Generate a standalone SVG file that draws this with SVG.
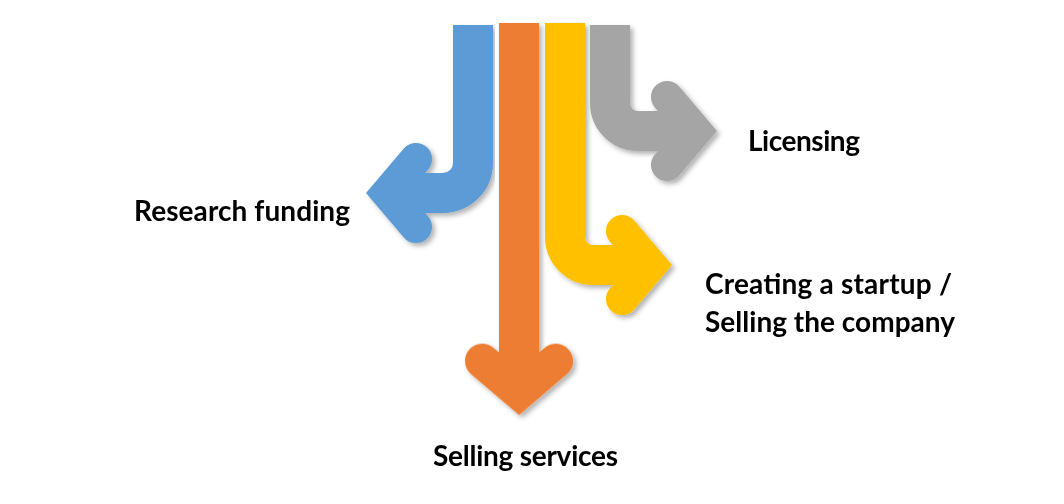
<svg xmlns="http://www.w3.org/2000/svg" width="1064" height="504" viewBox="0 0 1064 504">
  <style>
    .lbl { font-family: Lato, "Open Sans", "Liberation Sans", sans-serif; font-weight: 700; font-size: 28px; fill: #000; }
    .bar { fill: none; stroke-width: 40; stroke-linecap: butt; }
  </style>
  <defs>
    <filter id="sh" x="-20%" y="-20%" width="140%" height="140%">
      <feDropShadow dx="3" dy="3" stdDeviation="2.5" flood-color="#000" flood-opacity="0.3"/>
    </filter>
    <path id="head" d="M0,0 L-37.8,-44.4 A16,16 0 0 0 -62.2,-23.6 L-58.3,-19 L-58.3,19 L-62.2,23.6 A16,16 0 0 0 -37.8,44.4 Z"/>
  </defs>
  <rect width="1064" height="504" fill="#fff"/>
  <g id="connectors">
    <g id="arrow-blue" filter="url(#sh)" fill="#5B9BD5">
      <path class="bar" stroke="#5B9BD5" d="M473,25 V163 A30,30 0 0 1 443,193 H410"/>
      <use href="#head" transform="translate(366,193) scale(-1,1)"/>
    </g>
    <g id="arrow-orange" filter="url(#sh)" fill="#ED7D31">
      <path class="bar" stroke="#ED7D31" stroke-width="42" d="M519,23 V365"/>
      <use href="#head" transform="translate(519,415) rotate(90) scale(1.08)"/>
    </g>
    <g id="arrow-yellow" filter="url(#sh)" fill="#FFC000">
      <path class="bar" stroke="#FFC000" d="M565,23 V237 A28,28 0 0 0 593,265 H625"/>
      <use href="#head" transform="translate(672,265)"/>
    </g>
    <g id="arrow-grey" filter="url(#sh)" fill="#A5A5A5">
      <path class="bar" stroke="#A5A5A5" d="M610,25 V103 A28,28 0 0 0 638,131 H670"/>
      <use href="#head" transform="translate(717,131)"/>
    </g>
  </g>
  <g id="node-research">
    <text class="lbl" x="134" y="221" textLength="216">Research funding</text>
  </g>
  <g id="node-licensing">
    <text class="lbl" x="748" y="151" textLength="112">Licensing</text>
  </g>
  <g id="node-startup">
    <text class="lbl" x="705" y="294" textLength="247">Creating a startup /</text>
    <text class="lbl" x="705" y="332" textLength="250">Selling the company</text>
  </g>
  <g id="node-services">
    <text class="lbl" x="433" y="466" textLength="185">Selling services</text>
  </g>
</svg>
